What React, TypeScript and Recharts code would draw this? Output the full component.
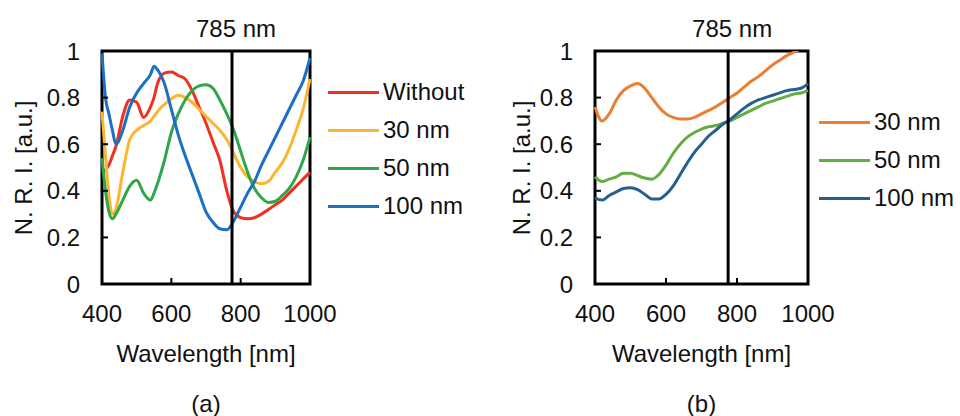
import { LineChart, Line, XAxis, YAxis, ReferenceLine, ReferenceArea, Legend } from 'recharts';

// panel (a)
const wavelengthsA = [400, 410, 420, 430, 440, 460, 480, 500, 520, 540, 550, 560, 580, 600, 620, 640, 660, 680, 700, 720, 740, 760, 780, 800, 820, 840, 860, 880, 900, 920, 940, 960, 980, 1000];
const withoutA = [0.48, 0.49, 0.51, 0.55, 0.59, 0.72, 0.79, 0.78, 0.715, 0.76, 0.8, 0.86, 0.905, 0.91, 0.895, 0.88, 0.83, 0.76, 0.69, 0.61, 0.53, 0.4, 0.31, 0.285, 0.28, 0.285, 0.3, 0.32, 0.34, 0.36, 0.39, 0.42, 0.45, 0.48];
const nm30A = [0.74, 0.55, 0.38, 0.3, 0.32, 0.48, 0.62, 0.66, 0.68, 0.7, 0.72, 0.74, 0.77, 0.795, 0.81, 0.8, 0.78, 0.75, 0.72, 0.69, 0.66, 0.62, 0.56, 0.5, 0.46, 0.44, 0.43, 0.44, 0.48, 0.52, 0.58, 0.66, 0.75, 0.88];
const nm50A = [0.54, 0.4, 0.31, 0.28, 0.3, 0.36, 0.42, 0.445, 0.39, 0.36, 0.39, 0.43, 0.53, 0.65, 0.73, 0.79, 0.83, 0.85, 0.855, 0.84, 0.79, 0.73, 0.66, 0.57, 0.48, 0.41, 0.37, 0.35, 0.355, 0.38, 0.41, 0.46, 0.53, 0.63];
const nm100A = [0.99, 0.8, 0.73, 0.66, 0.6, 0.66, 0.76, 0.82, 0.86, 0.9, 0.935, 0.92, 0.86, 0.75, 0.64, 0.55, 0.47, 0.39, 0.31, 0.265, 0.237, 0.233, 0.27, 0.33, 0.39, 0.44, 0.51, 0.57, 0.63, 0.69, 0.75, 0.81, 0.87, 0.97];

// panel (b)
const wavelengthsB = [400, 420, 440, 460, 480, 500, 520, 540, 560, 580, 600, 620, 640, 660, 680, 700, 720, 740, 760, 780, 800, 820, 840, 860, 880, 900, 920, 940, 960, 980, 1000];
const nm30B = [0.76, 0.7, 0.73, 0.79, 0.83, 0.85, 0.86, 0.84, 0.8, 0.76, 0.73, 0.715, 0.708, 0.708, 0.715, 0.73, 0.745, 0.76, 0.78, 0.8, 0.82, 0.845, 0.87, 0.89, 0.915, 0.94, 0.96, 0.98, 0.995, 1.01, 1.03];
const nm50B = [0.46, 0.44, 0.45, 0.46, 0.475, 0.475, 0.465, 0.455, 0.45, 0.47, 0.51, 0.56, 0.6, 0.63, 0.65, 0.665, 0.675, 0.68, 0.69, 0.7, 0.715, 0.73, 0.745, 0.76, 0.775, 0.785, 0.795, 0.805, 0.815, 0.82, 0.83];
const nm100B = [0.37, 0.36, 0.38, 0.395, 0.41, 0.413, 0.405, 0.385, 0.365, 0.365, 0.385, 0.42, 0.47, 0.52, 0.565, 0.6, 0.635, 0.66, 0.685, 0.705, 0.73, 0.755, 0.775, 0.79, 0.8, 0.81, 0.82, 0.83, 0.835, 0.84, 0.86];

const xTicks = [400, 600, 800, 1000];
const yTicks = [0, 0.2, 0.4, 0.6, 0.8, 1];
const laserLine = 775;

const dataA = wavelengthsA.map((w, i) => ({ w, without: withoutA[i], nm30: nm30A[i], nm50: nm50A[i], nm100: nm100A[i] }));
const dataB = wavelengthsB.map((w, i) => ({ w, nm30: nm30B[i], nm50: nm50B[i], nm100: nm100B[i] }));

const font = { fontSize: 24, fill: '#111' };

// legend keeps the series order (recharts sorts by name otherwise)
function LegendBox({ series }: any) {
  return (
    <div style={{ fontSize: 24, color: '#111' }}>
      {series.map((s: any) => (
        <div key={s.key} style={{ display: 'flex', alignItems: 'center', height: 38 }}>
          <span style={{ display: 'inline-block', width: 51, height: 3, background: s.color, marginRight: 4 }} />
          <span>{s.name}</span>
        </div>
      ))}
    </div>
  );
}

function Panel({ data, left, marginLeft, marginRight, legendLeft, legendTop, titleX, series, tag }: any) {
  const midX = marginLeft + 60 + (480 - marginLeft - 60 - marginRight) / 2;
  return (
    <div style={{ position: 'absolute', left, top: 0 }}>
      <LineChart width={480} height={416} data={data} margin={{ top: 51, right: marginRight, bottom: 92, left: marginLeft }}>
        <XAxis dataKey="w" type="number" domain={[400, 1000]} ticks={xTicks} height={40}
          axisLine={false} tickSize={-6} tickMargin={27} tick={font} tickLine={{ stroke: '#000', strokeWidth: 2 }} />
        <YAxis type="number" domain={[0, 1]} ticks={yTicks} width={60} allowDataOverflow
          axisLine={false} tickSize={-6} tickMargin={28} tick={font} tickLine={{ stroke: '#000', strokeWidth: 2 }} />
        <ReferenceArea x1={400} x2={1000} y1={0} y2={1} fill="none" fillOpacity={0} stroke="#000" strokeWidth={3} />
        {series.map((s: any) => (
          <Line key={s.key} dataKey={s.key} name={s.name} stroke={s.color} strokeWidth={3} dot={false}
            type="monotone" isAnimationActive={false} />
        ))}
        <ReferenceLine x={laserLine} stroke="#000" strokeWidth={3}
          label={{ value: '785 nm', position: 'top', offset: 14, dx: 4, ...font }} />
        <Legend layout="vertical" align="center" verticalAlign="middle" content={<LegendBox series={series} />}
          wrapperStyle={{ left: legendLeft, top: legendTop, width: 150 }} />
        <text x={titleX} y={168} transform={`rotate(-90 ${titleX} 168)`} textAnchor="middle" dominantBaseline="central" {...font}>
          N. R. I. [a.u.]
        </text>
        <text x={midX} y={362} textAnchor="middle" {...font}>
          Wavelength [nm]
        </text>
        <text x={midX} y={412} textAnchor="middle" {...font}>
          {tag}
        </text>
      </LineChart>
    </div>
  );
}

export default function App() {
  return (
    <div style={{ position: 'absolute', left: 0, top: 0, width: 960, height: 416, background: '#fff', fontFamily: '"Liberation Sans", Arial, sans-serif' }}>
      <Panel data={dataA} left={0} marginLeft={42} marginRight={170} legendLeft={328} legendTop={73} titleX={23} tag="(a)"
        series={[
          { key: 'without', name: 'Without', color: '#f3301f' },
          { key: 'nm30', name: '30 nm', color: '#fbb631' },
          { key: 'nm50', name: '50 nm', color: '#30a64a' },
          { key: 'nm100', name: '100 nm', color: '#1b6fc4' },
        ]} />
      <Panel data={dataB} left={480} marginLeft={55} marginRight={152} legendLeft={339} legendTop={103} titleX={41} tag="(b)"
        series={[
          { key: 'nm30', name: '30 nm', color: '#ed7d31' },
          { key: 'nm50', name: '50 nm', color: '#63ad42' },
          { key: 'nm100', name: '100 nm', color: '#25608f' },
        ]} />
    </div>
  );
}
